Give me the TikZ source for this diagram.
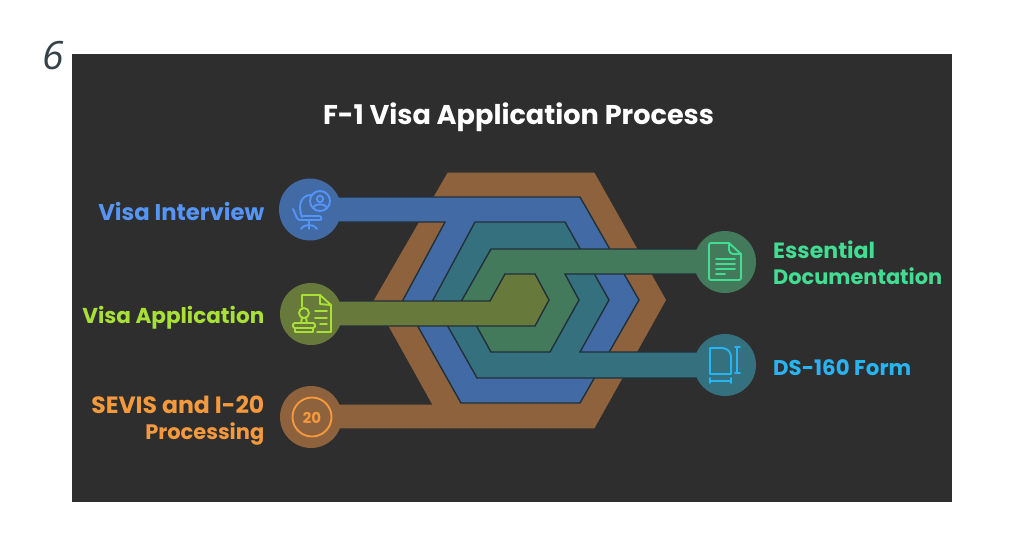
\documentclass[tikz,border=0pt]{standalone}
\usepackage{fontspec}
\usepackage{graphicx}
\setmainfont{Poppins}
\newfontfamily\sixfont{Open Sans}
\definecolor{panel}{HTML}{2E2E2E}
\definecolor{edge}{HTML}{22303A}
\definecolor{sixink}{HTML}{36424A}
\definecolor{brownband}{HTML}{8D623C}
\definecolor{blueband}{HTML}{426AA5}
\definecolor{tealband}{HTML}{35707F}
\definecolor{greenband}{HTML}{437A5C}
\definecolor{oliveband}{HTML}{687A3B}
\definecolor{blueink}{HTML}{5595F5}
\definecolor{oliveink}{HTML}{A8E038}
\definecolor{orangeink}{HTML}{F4993C}
\definecolor{greenink}{HTML}{42DC92}
\definecolor{tealink}{HTML}{28B4F0}
\newcommand{\fw}[2]{\resizebox{#1pt}{!}{#2}}
\tikzset{
  band/.style={draw=edge,line width=1.4pt,line join=miter},
  disc/.style={circle,minimum size=62pt,inner sep=0pt,draw=none},
  icon/.style={line width=1.9pt,line cap=round,line join=round},
  label/.style={inner sep=0pt,font=\bfseries\fontsize{20}{26}\selectfont},
}
\begin{document}
\begin{tikzpicture}[x=1pt,y=-1pt]
\useasboundingbox (0,0) rectangle (1024,538);
\fill[white] (0,0) rectangle (1024,538);
\fill[panel] (72,54) rectangle (952,502);
\node[inner sep=0pt,anchor=base,text=sixink] (six) at (53,69.5) {\sixfont\itshape\fontsize{39}{39}\selectfont 6};
\node[label,text=white,anchor=base] (title) at (518.5,124) {\fw{391}{F-1 Visa Application Process}};
% bands
\draw[band,fill=brownband,draw=panel] (311,404)--(431,404)--(373,300)--(447,172)--(595,172)--(667,300)--(595,429)--(311,429)--cycle;
\draw[band,fill=blueband] (311,197)--(580,197)--(639,300)--(580,403)--(461,403)--(403,300)--(445,222)--(311,222)--cycle;
\draw[band,fill=tealband] (475,222)--(565,222)--(609,300)--(580,352)--(726,352)--(726,378)--(477,378)--(433,300)--cycle;
\draw[band,fill=greenband] (491,249)--(726,249)--(726,274)--(565,274)--(579,300)--(550,352)--(491,352)--(462,300)--cycle;
\draw[band,fill=oliveband] (311,301)--(490,301)--(505,274)--(535,274)--(549,300)--(535,326)--(311,326)--cycle;
% discs
\node[disc,fill=blueband] (d1) at (310,209.5) {};
\node[disc,fill=oliveband] (d2) at (311,314) {};
\node[disc,fill=brownband] (d3) at (311,417) {};
\node[disc,fill=greenband] (d4) at (725,262) {};
\node[disc,fill=tealband] (d5) at (725,365) {};
% labels
\node[label,text=blueink,anchor=base east] (l1) at (264.5,220) {\fw{166}{Visa Interview}};
\node[label,text=oliveink,anchor=base east] (l2) at (264.5,323) {\fw{182}{Visa Application}};
\node[label,text=orangeink,anchor=base east] (l3a) at (264.5,413) {\fw{173}{SEVIS and I-20}};
\node[label,text=orangeink,anchor=base east] (l3b) at (264.5,439) {\fw{119}{Processing}};
\node[label,text=greenink,anchor=base west] (l4a) at (773,258) {\fw{102}{Essential}};
\node[label,text=greenink,anchor=base west] (l4b) at (773,284) {\fw{169}{Documentation}};
\node[label,text=tealink,anchor=base west] (l5) at (773,375) {\fw{138}{DS-160 Form}};
% icon: chair and person
\begin{scope}[icon,draw=blueink]
\draw (320,201) circle (10);
\draw (320,199) circle (3.2);
\draw (313,208) .. controls (314,203) and (326,203) .. (327,208);
\draw (311,195) .. controls (302,195) and (297,204) .. (302,217);
\draw (293,209) -- (297,218) .. controls (298,220) and (299,220) .. (301,220) -- (320,220) .. controls (322,220) and (322,216) .. (319,216) -- (303,216);
\draw (309,220) -- (309,229);
\draw (301,229) .. controls (303,226) and (306,225) .. (309,225) .. controls (312,225) and (315,226) .. (317,229);
\end{scope}
% icon: document and stamp
\begin{scope}[icon,draw=oliveink]
\draw (302,307) -- (302,295) -- (320,295) -- (331,305) -- (331,332) -- (317,332);
\draw (320,295) -- (320,304) -- (331,305);
\draw (315,311) -- (327,311) (315,318) -- (327,318) (320,324) -- (327,324);
\draw (304,313) circle (5);
\draw (302,318) -- (301,323) (306,318) -- (307,323);
\draw[rounded corners=1.5pt] (293,323) rectangle (315,328);
\draw (295,328) -- (295,332) -- (313,332) -- (313,328);
\end{scope}
% icon: 20
\draw[icon,draw=orangeink] (312,417) circle (19.5);
\node[inner sep=0pt,text=orangeink,font=\bfseries\fontsize{15}{15}\selectfont] (twenty) at (312,417.5) {20};
% icon: document
\begin{scope}[icon,draw=greenink]
\draw[rounded corners=2pt] (729,243) -- (709,243) -- (709,280) -- (741,280) -- (741,254);
\draw (729,243) -- (741,254);
\draw (729,243) -- (729,250) .. controls (729,252) and (731,254) .. (733,254) -- (741,254);
\draw (716,259) -- (735,259) (716,264) -- (735,264) (716,269) -- (735,269) (716,274) -- (725,274);
\end{scope}
% icon: form with dimensions
\begin{scope}[icon,draw=tealink]
\draw (710,348) -- (723,348) .. controls (728,349) and (731,352) .. (731,357) -- (731,374) -- (710,374) -- cycle;
\draw (737,347) -- (737,373) (735,347) -- (740,347) (735,373) -- (740,373);
\draw (710,381) -- (731,381) (710,378) -- (710,383) (731,378) -- (731,383);
\end{scope}
\end{tikzpicture}
\end{document}
